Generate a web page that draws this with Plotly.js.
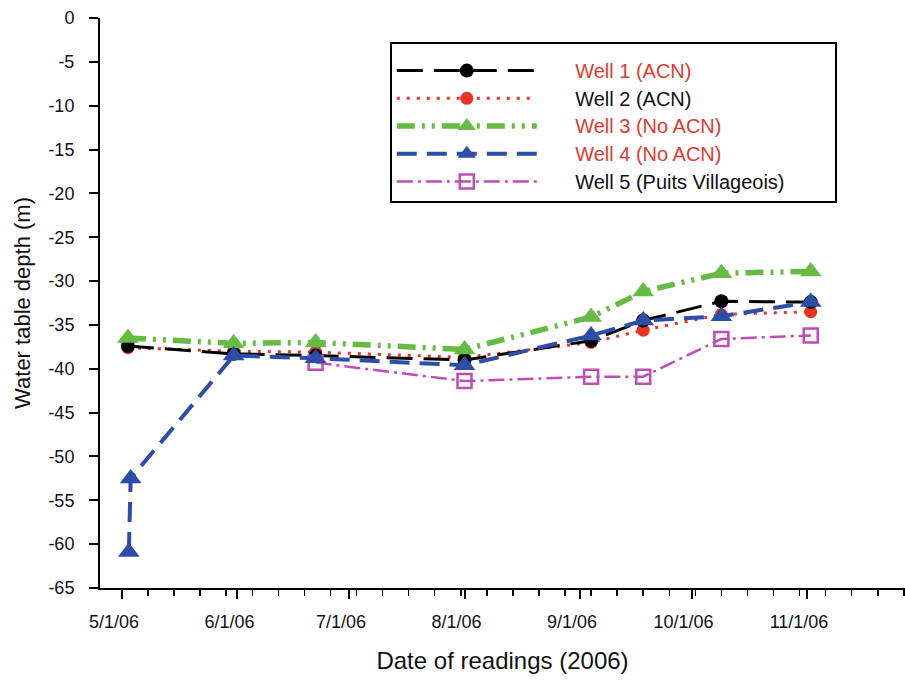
<!DOCTYPE html>
<html>
<head>
<meta charset="utf-8">
<script src="https://cdn.plot.ly/plotly-3.0.1.min.js"></script>
<style>html,body{margin:0;padding:0;background:#fff;}#chart{width:905px;height:681px;}</style>
</head>
<body>
<div id="chart"></div>
<script>
// Reading dates
const datesMain = ['2006-05-02 14:00','2006-05-31','2006-06-22','2006-08-01','2006-09-04','2006-09-18','2006-10-09','2006-11-02'];
const datesWell4 = ['2006-05-02 20:00','2006-05-03 08:00','2006-05-31','2006-06-22','2006-08-01','2006-09-04','2006-09-18','2006-10-09','2006-11-02'];
const datesWell5 = ['2006-06-22','2006-08-01','2006-09-04','2006-09-18','2006-10-09','2006-11-02'];

// Water table depth (m)
const well1 = [-37.4, -38.3, -38.5, -39.0, -36.8, -34.5, -32.3, -32.4];
const well2 = [-37.6, -38.0, -38.1, -38.7, -37.0, -35.6, -33.8, -33.5];
const well3 = [-36.5, -37.1, -37.0, -37.8, -34.1, -31.2, -29.1, -28.9];
const well4 = [-60.9, -52.5, -38.5, -38.8, -39.6, -36.2, -34.5, -34.0, -32.4];
const well5 = [-39.3, -41.4, -40.9, -40.9, -36.6, -36.2];

const names = ['Well 1 (ACN)', 'Well 2 (ACN)', 'Well 3 (No ACN)', 'Well 4 (No ACN)', 'Well 5 (Puits Villageois)'];
const nameColors = ['#e23a2e', '#111111', '#e23a2e', '#e23a2e', '#111111'];
const yTickVals = [0,-5,-10,-15,-20,-25,-30,-35,-40,-45,-50,-55,-60,-65];

function label(i){
  return '<span style="font-size:20px">' + '&nbsp;'.repeat(6) + '</span>' +
    '<span style="font-size:20px;color:' + nameColors[i] + '">' + names[i] + '</span>' +
    '<span style="font-size:20px">' + '&nbsp;'.repeat(i === 4 ? 8 : 0) + '</span>';
}

const tr1 = {x: datesMain, y: well1, name: label(0), legendrank: 1, mode: 'lines+markers',
  line: {color: '#000000', width: 3, dash: '26px,11px'},
  marker: {symbol: 'circle', size: 14, color: '#000000'}};
const tr2 = {x: datesMain, y: well2, name: label(1), legendrank: 2, mode: 'lines+markers',
  line: {color: '#ea3323', width: 3, dash: '3px,7px'},
  marker: {symbol: 'circle', size: 13, color: '#ea3323'}};
const tr3 = {x: datesMain, y: well3, name: label(2), legendrank: 3, mode: 'lines+markers',
  line: {color: '#66bb44', width: 5.5, dash: '18px,7px,3px,7px,3px,7px'},
  marker: {symbol: 'triangle-up', size: 19, color: '#66bb44'}};
const tr4 = {x: datesWell4, y: well4, name: label(3), legendrank: 4, mode: 'lines+markers',
  line: {color: '#2d4ea8', width: 4, dash: '20px,10px'},
  marker: {symbol: 'triangle-up', size: 19, color: '#2d4ea8'}};
const tr5 = {x: datesWell5, y: well5, name: label(4), legendrank: 5, mode: 'lines+markers',
  line: {color: '#bf4bb5', width: 2.5, dash: '16px,5px,3px,5px'},
  marker: {symbol: 'square-open', size: 14, color: '#bf4bb5', line: {width: 2.5, color: '#bf4bb5'}}};

const layout = {
  width: 905, height: 681,
  margin: {l: 100, r: 0, t: 18, b: 93},
  paper_bgcolor: '#ffffff', plot_bgcolor: '#ffffff',
  font: {family: 'Liberation Sans, Arial, sans-serif', size: 18, color: '#111111'},
  showlegend: true,
  legend: {
    x: 0.36, y: 0.958, xanchor: 'left', yanchor: 'top',
    bgcolor: '#ffffff', bordercolor: '#000000', borderwidth: 2,
    font: {size: 19, family: 'Liberation Sans, Arial, sans-serif'},
    itemwidth: 140, traceorder: 'normal',
    title: {text: ' ', font: {size: 6}}
  },
  xaxis: {
    type: 'date',
    range: ['2006-04-25 02:10', '2006-11-27 07:40'],
    tick0: '2006-05-01', dtick: 'M1', tickformat: '%-m/%-d/%y',
    ticks: 'outside', ticklen: 9, tickwidth: 2, tickcolor: '#000',
    ticklabelshift: -8, ticklabelstandoff: 7,
    minor: {tick0: '2006-05-01', dtick: 7 * 86400000, ticks: 'outside', ticklen: 6, tickwidth: 1.5, tickcolor: '#000', showgrid: false},
    showline: true, linecolor: '#000', linewidth: 2,
    showgrid: false, zeroline: false, automargin: false,
    tickfont: {size: 18},
    title: {text: 'Date of readings (2006)', font: {size: 24}, standoff: 22}
  },
  yaxis: {
    range: [-65, 0], tickvals: yTickVals, ticktext: yTickVals.map(String),
    ticks: 'outside', ticklen: 9, tickwidth: 2, tickcolor: '#000',
    ticklabelstandoff: 11,
    showline: true, linecolor: '#000', linewidth: 2,
    showgrid: false, zeroline: false, automargin: false,
    tickfont: {size: 18}
  },
  annotations: [{
    text: 'Water table depth (m)', xref: 'paper', yref: 'paper',
    x: -0.097, y: 0.5, xanchor: 'center', yanchor: 'middle',
    textangle: -90, showarrow: false, font: {size: 22, color: '#111111'}
  }]
};

Plotly.newPlot('chart', [tr2, tr1, tr5, tr3, tr4], layout, {displayModeBar: false, staticPlot: true});
</script>
</body>
</html>
